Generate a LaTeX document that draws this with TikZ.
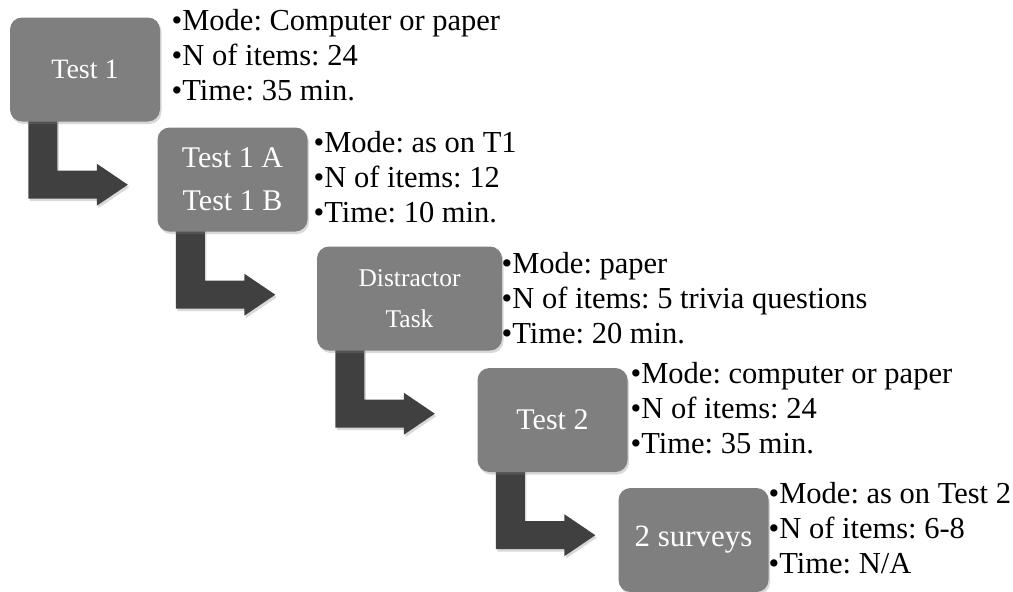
\documentclass[tikz,border=0pt]{standalone}
\usepackage{fontspec}
\setmainfont{Liberation Serif}
\frenchspacing
\usetikzlibrary{shadows,calc,backgrounds}
\definecolor{boxgray}{HTML}{7F7F7F}
\definecolor{arrowgray}{HTML}{404040}
\tikzset{
	stage/.style={rectangle,rounded corners=12pt,fill=boxgray,text=white,align=center,
		minimum width=150pt,minimum height=104pt,inner sep=2pt,
		font=\fontsize{30}{43}\selectfont,
		drop shadow={opacity=0.3,shadow xshift=1.5pt,shadow yshift=-2.5pt}},
	info/.style={anchor=base west,align=left,inner sep=0pt,font=\fontsize{30.5}{35}\selectfont},
	bendarrow/.style={fill=arrowgray,drop shadow={opacity=0.3,shadow xshift=1.5pt,shadow yshift=-2.5pt}}
}
\begin{document}
\begin{tikzpicture}[x=1pt,y=-1pt]
\useasboundingbox (0,0) rectangle (1013,592);
% stages
\node[stage,font=\fontsize{28}{43}\selectfont] (t1) at (85,69.5) {Test 1};
\node[stage] (t2) at (232.5,179.5) {Test 1 A\\Test 1 B};
\node[stage,minimum width=185pt,font=\fontsize{25.5}{41}\selectfont] (t3) at (409.5,298.5) {Distractor\\Task};
\node[stage] (t4) at (552.5,420) {Test 2};
\node[stage,font=\fontsize{31}{43}\selectfont] (t5) at (693.5,540) {2 surveys};
% details (anchored at the baseline of the last line)
\node[info] (i1) at (171.5,100) {•Mode: Computer or paper\\•N of items: 24\\•Time: 35 min.};
\node[info] (i2) at (313.5,222) {•Mode: as on T1\\•N of items: 12\\•Time: 10 min.};
\node[info] (i3) at (501.5,343) {•Mode: paper\\•N of items: 5 trivia questions\\•Time: 20 min.};
\node[info] (i4) at (630.5,453) {•Mode: computer or paper\\•N of items: 24\\•Time: 35 min.};
\node[info] (i5) at (768.5,573) {•Mode: as on Test 2\\•N of items: 6-8\\•Time: N/A};
% bent arrows
\begin{scope}[on background layer]
\foreach \a/\b in {t1/t2,t2/t3,t3/t4,t4/t5}{
	\fill[bendarrow] let \p1=(\a.south west) in
		(\x1+18.5pt,\y1+4pt) -- (\x1+47.5pt,\y1+4pt) -- (\x1+47.5pt,\y1-49pt)
		-- (\x1+87pt,\y1-49pt) -- (\x1+87pt,\y1-42pt) -- (\x1+118pt,\y1-63pt)
		-- (\x1+87pt,\y1-84pt) -- (\x1+87pt,\y1-77pt) -- (\x1+18.5pt,\y1-77pt) -- cycle;}
\end{scope}
\end{tikzpicture}
\end{document}
